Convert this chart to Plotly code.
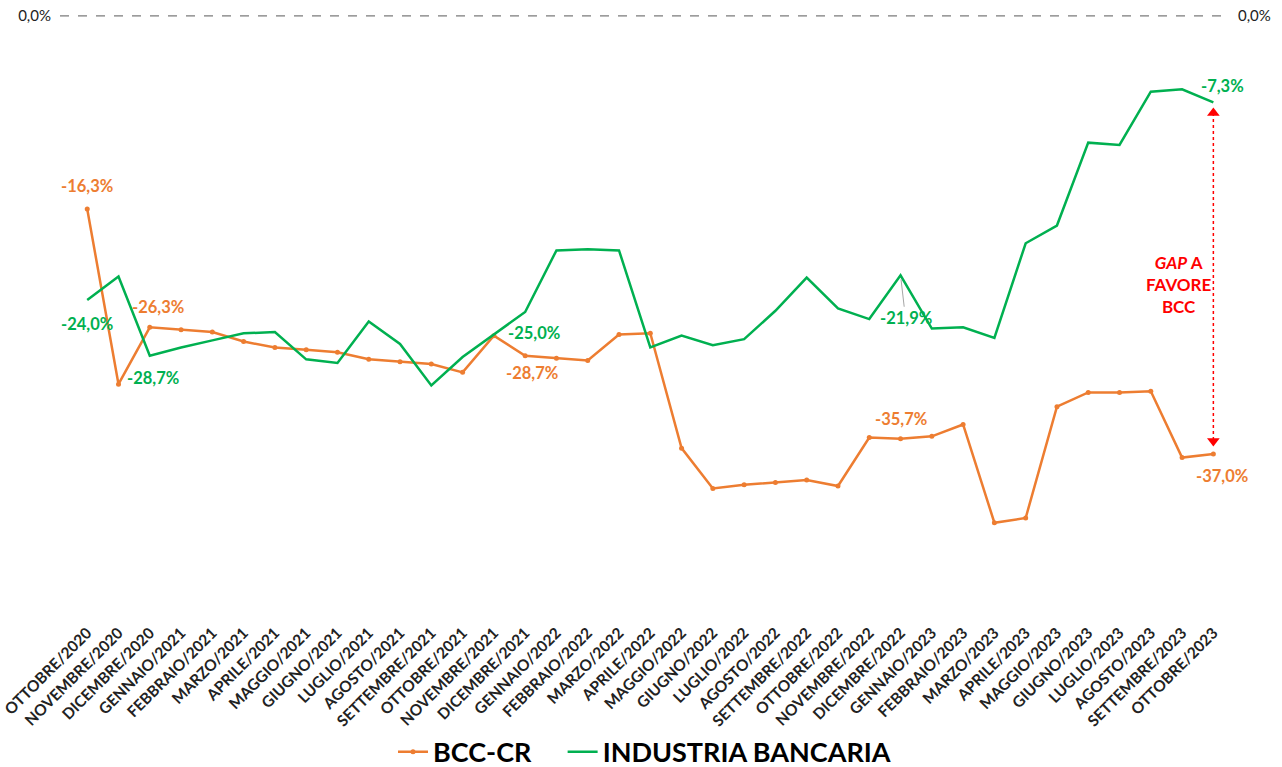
import plotly.graph_objects as go

months = ["OTTOBRE/2020", "NOVEMBRE/2020", "DICEMBRE/2020", "GENNAIO/2021", "FEBBRAIO/2021",
          "MARZO/2021", "APRILE/2021", "MAGGIO/2021", "GIUGNO/2021", "LUGLIO/2021",
          "AGOSTO/2021", "SETTEMBRE/2021", "OTTOBRE/2021", "NOVEMBRE/2021", "DICEMBRE/2021",
          "GENNAIO/2022", "FEBBRAIO/2022", "MARZO/2022", "APRILE/2022", "MAGGIO/2022",
          "GIUGNO/2022", "LUGLIO/2022", "AGOSTO/2022", "SETTEMBRE/2022", "OTTOBRE/2022",
          "NOVEMBRE/2022", "DICEMBRE/2022", "GENNAIO/2023", "FEBBRAIO/2023", "MARZO/2023",
          "APRILE/2023", "MAGGIO/2023", "GIUGNO/2023", "LUGLIO/2023", "AGOSTO/2023",
          "SETTEMBRE/2023", "OTTOBRE/2023"]

bcc_cr = [-16.3, -31.1, -26.3, -26.5, -26.7, -27.5, -28.0, -28.2, -28.4, -29.0,
          -29.2, -29.4, -30.1, -27.0, -28.7, -28.9, -29.1, -26.9, -26.8, -36.5,
          -39.9, -39.6, -39.4, -39.2, -39.7, -35.6, -35.7, -35.5, -34.5, -42.8,
          -42.4, -33.0, -31.8, -31.8, -31.7, -37.3, -37.0]

industria = [-24.0, -22.0, -28.7, -28.0, -27.4, -26.8, -26.7, -29.0, -29.3, -25.8,
             -27.7, -31.2, -28.8, -26.9, -25.0, -19.8, -19.7, -19.8, -28.0, -27.0,
             -27.8, -27.3, -24.9, -22.1, -24.7, -25.6, -21.9, -26.4, -26.3, -27.2,
             -19.2, -17.7, -10.7, -10.9, -6.4, -6.2, -7.3]

series_names = ["BCC-CR", "INDUSTRIA BANCARIA"]
zero_label = "0,0%"
gap_text = "<i>GAP</i> A<br>FAVORE<br>BCC"

ORANGE = "#ED7D31"
GREEN = "#00B050"
RED = "#FF0000"
FONT = "Lato"

fig = go.Figure()
fig.add_trace(go.Scatter(x=months, y=bcc_cr, name=series_names[0] + "\u00a0" * 4,
                         mode="lines+markers",
                         line=dict(color=ORANGE, width=2.5),
                         marker=dict(color=ORANGE, size=5)))
fig.add_trace(go.Scatter(x=months, y=industria, name=series_names[1], mode="lines",
                         line=dict(color=GREEN, width=2.5)))

# arrowheads of the gap arrow
top = industria[-1] - 0.9
bottom = bcc_cr[-1] + 1.1
fig.add_trace(go.Scatter(x=[months[-1], months[-1]], y=[top, bottom], mode="markers",
                         marker=dict(symbol=["triangle-up", "triangle-down"], size=11, color=RED),
                         showlegend=False, hoverinfo="skip"))

# invisible trace for the right axis
fig.add_trace(go.Scatter(x=[months[0]], y=[0], yaxis="y2", mode="markers",
                         marker=dict(opacity=0), showlegend=False, hoverinfo="skip"))

fig.add_shape(type="line", xref="paper", x0=0, x1=1, yref="y", y0=0, y1=0,
              line=dict(color="#595959", width=1, dash="dash"))
fig.add_shape(type="line", xref="x", x0=months[-1], x1=months[-1], yref="y", y0=top, y1=bottom,
              line=dict(color=RED, width=1.5, dash="dot"))


def fmt(v):
    return f"{v:.1f}".replace(".", ",") + "%"


# (series, index, xshift, yshift)
label_cfg = [
    (0, 0, 0, 23), (1, 0, 0, -24),
    (0, 2, 8, 20), (1, 2, 3, -22),
    (1, 14, 9, -21), (0, 14, 7, -17),
    (0, 26, 0, 20),
    (1, 36, 9, 16), (0, 36, 9, -22),
]
data = [bcc_cr, industria]
colors = [ORANGE, GREEN]
for s, i, xs, ys in label_cfg:
    fig.add_annotation(x=months[i], y=data[s][i], text=fmt(data[s][i]), showarrow=False,
                       xshift=xs, yshift=ys,
                       font=dict(family=FONT, size=16.5, color=colors[s], weight="bold"))

# label with leader line
fig.add_annotation(x=months[26], y=industria[26], text=fmt(industria[26]), showarrow=True,
                   ax=5, ay=43, arrowhead=0, arrowwidth=1, arrowcolor="#A6A6A6", standoff=4,
                   font=dict(family=FONT, size=16.5, color=GREEN, weight="bold"))

fig.add_annotation(x=months[-2], y=(industria[-1] + bcc_cr[-1]) / 2, text=gap_text,
                   showarrow=False, xshift=-3, yshift=-6,
                   font=dict(family=FONT, size=17, color=RED, weight="bold"))

fig.update_layout(
    width=1282, height=767,
    margin=dict(l=60, r=53, t=10, b=159, autoexpand=False),
    paper_bgcolor="white", plot_bgcolor="white",
    font=dict(family=FONT, color="#222222"),
    showlegend=True,
    legend=dict(orientation="h", x=0.5, xanchor="center", y=-0.241, yanchor="middle",
                font=dict(family=FONT, size=27, color="black", weight="bold"),
                itemwidth=30, tracegroupgap=0),
    xaxis=dict(type="category", range=[-0.87, 36.5], tickangle=-45, showgrid=False,
               showline=False, zeroline=False, ticks="", automargin=False, ticklabelstandoff=12,
               tickfont=dict(family=FONT, size=15.5, color="#222222", weight="bold")),
    yaxis=dict(range=[-50, 0.5], tickvals=[0], ticktext=[zero_label], showgrid=False,
               zeroline=False, showline=False, ticks="", automargin=False,
               ticklabelstandoff=8,
               tickfont=dict(family=FONT, size=15, color="#222222")),
    yaxis2=dict(range=[-50, 0.5], overlaying="y", side="right", tickvals=[0],
                ticktext=[zero_label], showgrid=False, zeroline=False, showline=False,
                ticks="", automargin=False, ticklabelstandoff=8,
                tickfont=dict(family=FONT, size=15, color="#222222")),
)

fig.write_html("out.html", config={"displayModeBar": False},
               post_script="document.body.style.margin='0px';document.body.style.overflow='hidden';")
